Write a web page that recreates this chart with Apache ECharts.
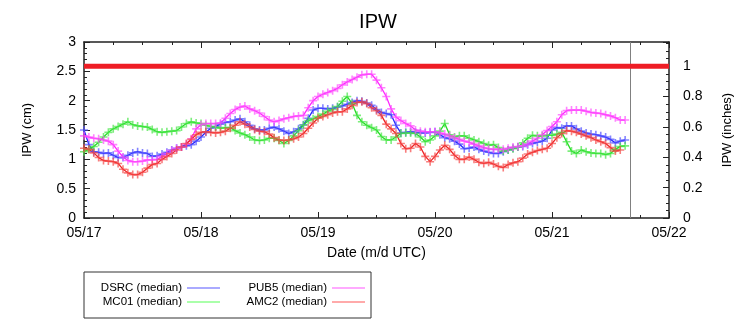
<!DOCTYPE html>
<html>
<head>
<meta charset="utf-8">
<script src="https://cdn.jsdelivr.net/npm/echarts@6/dist/echarts.min.js"></script>
<style>html,body{margin:0;padding:0;background:#fff}#c{width:756px;height:324px}</style>
</head>
<body>
<div id="c"></div>
<script>
// Hours since 05/17 00:00 UTC (one value per hour)
const dayLabels = ['05/17', '05/18', '05/19', '05/20', '05/21', '05/22'];
const nowHour = 112; // gray vertical marker (05/21 16:00)
const thresholdInches = 1;

const dsrc = [
  1.50,1.25,1.13,1.12,1.10,1.11,1.07,1.03,1.03,1.07,1.11,1.13,
  1.11,1.10,1.05,1.06,1.09,1.12,1.16,1.19,1.21,1.23,1.25,1.31,
  1.38,1.46,1.53,1.56,1.60,1.63,1.64,1.67,1.69,1.64,1.58,1.52,
  1.50,1.50,1.53,1.55,1.52,1.48,1.44,1.47,1.52,1.59,1.70,1.84,
  1.87,1.87,1.86,1.87,1.89,1.91,1.94,1.97,2.00,1.99,1.96,1.92,
  1.85,1.80,1.78,1.76,1.58,1.45,1.46,1.47,1.46,1.45,1.45,1.46,
  1.47,1.42,1.37,1.35,1.31,1.26,1.18,1.19,1.21,1.17,1.14,1.12,
  1.10,1.10,1.13,1.16,1.19,1.21,1.22,1.25,1.27,1.29,1.31,1.36,
  1.50,1.54,1.53,1.57,1.57,1.52,1.48,1.45,1.43,1.42,1.40,1.38,
  1.34,1.28,1.31,1.33
];
const mc01 = [
  1.13,1.17,1.22,1.29,1.38,1.46,1.52,1.56,1.60,1.64,1.59,1.57,
  1.56,1.55,1.51,1.47,1.46,1.47,1.48,1.49,1.55,1.61,1.64,1.62,
  1.61,1.58,1.56,1.55,1.53,1.54,1.54,1.49,1.45,1.42,1.38,1.33,
  1.32,1.33,1.36,1.36,1.32,1.27,1.32,1.40,1.49,1.58,1.66,1.69,
  1.73,1.77,1.82,1.85,1.90,1.99,2.07,1.95,1.75,1.64,1.58,1.54,
  1.50,1.39,1.33,1.33,1.38,1.44,1.45,1.45,1.44,1.38,1.30,1.33,
  1.40,1.48,1.61,1.42,1.38,1.40,1.40,1.36,1.33,1.30,1.27,1.24,
  1.25,1.20,1.14,1.16,1.18,1.21,1.28,1.36,1.41,1.40,1.40,1.41,
  1.41,1.43,1.46,1.30,1.14,1.10,1.16,1.13,1.11,1.10,1.10,1.08,
  1.10,1.17,1.22,1.23
];
const pub5 = [
  1.40,1.38,1.36,1.35,1.33,1.31,1.25,1.14,1.04,0.98,0.96,0.96,
  0.97,0.99,0.99,1.00,1.05,1.10,1.15,1.19,1.21,1.26,1.35,1.52,
  1.59,1.61,1.61,1.61,1.62,1.70,1.78,1.85,1.89,1.91,1.86,1.83,
  1.79,1.73,1.67,1.64,1.66,1.69,1.71,1.73,1.74,1.75,1.88,2.00,
  2.07,2.11,2.14,2.17,2.21,2.27,2.32,2.36,2.40,2.44,2.45,2.45,
  2.35,2.22,2.07,1.86,1.72,1.66,1.61,1.57,1.50,1.48,1.47,1.47,
  1.47,1.45,1.43,1.40,1.37,1.34,1.31,1.29,1.26,1.23,1.20,1.18,
  1.17,1.17,1.17,1.19,1.21,1.22,1.23,1.26,1.31,1.36,1.42,1.49,
  1.56,1.64,1.76,1.83,1.84,1.84,1.84,1.82,1.80,1.79,1.78,1.76,
  1.74,1.71,1.67,1.67
];
const amc2 = [
  1.19,1.17,1.11,1.03,0.98,0.97,0.96,0.93,0.83,0.77,0.74,0.74,
  0.78,0.85,0.91,0.93,1.00,1.05,1.10,1.16,1.21,1.27,1.34,1.42,
  1.46,1.47,1.46,1.45,1.46,1.48,1.53,1.58,1.64,1.60,1.55,1.51,
  1.48,1.47,1.43,1.37,1.33,1.32,1.33,1.35,1.38,1.44,1.53,1.62,
  1.70,1.73,1.76,1.79,1.81,1.81,1.86,1.92,1.97,1.98,1.95,1.88,
  1.83,1.75,1.60,1.52,1.44,1.27,1.18,1.19,1.27,1.21,1.05,0.96,
  1.05,1.16,1.24,1.17,1.07,1.00,1.00,1.04,1.00,0.95,0.93,0.95,
  0.92,0.88,0.86,0.91,0.94,0.96,1.02,1.09,1.12,1.15,1.17,1.19,
  1.27,1.37,1.44,1.49,1.48,1.46,1.43,1.40,1.37,1.33,1.30,1.27,
  1.20,1.14,1.16
];

const FONT = 'Liberation Sans, Arial, Helvetica, sans-serif';
const CROSS = 'path://M4,0H6V4H10V6H6V10H4V6H0V4H4Z';
const toPairs = arr => arr.map((v, i) => [i, v]);

function lineSeries(name, data, lineColor, markColor, extra) {
  return Object.assign({
    name: name,
    type: 'line',
    xAxisIndex: 0,
    yAxisIndex: 0,
    data: toPairs(data),
    symbol: CROSS,
    symbolSize: 8,
    showAllSymbol: true,
    itemStyle: { color: markColor },
    lineStyle: { color: lineColor, width: 1.3 },
    emphasis: { disabled: true },
    silent: true,
    animation: false
  }, extra || {});
}

const legendText = { fontFamily: FONT, fontSize: 11.5, color: '#000', lineHeight: 14 };
function legendEntry(name, color, right, top) {
  return {
    data: [name], icon: 'rect', right: right, top: top, align: 'right', padding: 0,
    itemWidth: 33, itemHeight: 2, itemGap: 0, selectedMode: false,
    itemStyle: { color: color, borderWidth: 0, opacity: 1 },
    lineStyle: { color: color, opacity: 1 },
    textStyle: legendText
  };
}

const axisLineStyle = { color: '#222', width: 1.5 };
const tickStyle = { color: '#222', width: 1 };

const chart = echarts.init(document.getElementById('c'), null, { renderer: 'canvas' });
chart.setOption({
  backgroundColor: '#fff',
  animation: false,
  title: {
    text: 'IPW', left: 'center', top: 7,
    textStyle: { fontFamily: FONT, fontSize: 20, fontWeight: 'normal', color: '#000' }
  },
  grid: { left: 84, right: 87, top: 42, bottom: 106 },
  legend: [
    legendEntry('DSRC (median)', '#aaaaff', 536, 281),
    legendEntry('MC01 (median)', '#aaffaa', 536, 295),
    legendEntry('PUB5 (median)', '#ffaaff', 391, 281),
    legendEntry('AMC2 (median)', '#ffaaaa', 391, 295)
  ],
  graphic: [
    { type: 'rect', shape: { x: 84, y: 272, width: 287, height: 46 },
      style: { fill: 'none', stroke: '#333', lineWidth: 1 }, silent: true }
  ],
  xAxis: [
    {
      type: 'value', min: 0, max: 120, interval: 24, position: 'bottom',
      name: 'Date (m/d UTC)', nameLocation: 'middle', nameGap: 28,
      nameTextStyle: { fontFamily: FONT, fontSize: 14, color: '#000' },
      axisLine: { show: true, onZero: false, lineStyle: axisLineStyle },
      axisTick: { show: true, inside: true, length: 6, lineStyle: tickStyle },
      minorTick: { show: true, splitNumber: 4, length: 3, lineStyle: tickStyle },
      splitLine: { show: false },
      axisLabel: {
        fontFamily: FONT, fontSize: 14, color: '#000', margin: 8,
        formatter: v => dayLabels[Math.round(v / 24)] || ''
      }
    },
    {
      type: 'value', min: 0, max: 120, interval: 24, position: 'top',
      axisLine: { show: true, onZero: false, lineStyle: axisLineStyle },
      axisTick: { show: true, inside: true, length: 6, lineStyle: tickStyle },
      minorTick: { show: true, splitNumber: 4, length: 3, lineStyle: tickStyle },
      splitLine: { show: false },
      axisLabel: { show: false }
    }
  ],
  yAxis: [
    {
      type: 'value', min: 0, max: 3, interval: 0.5, position: 'left',
      name: 'IPW (cm)', nameLocation: 'middle', nameGap: 50, nameRotate: 90,
      nameTextStyle: { fontFamily: FONT, fontSize: 13, color: '#000' },
      axisLine: { show: true, onZero: false, lineStyle: axisLineStyle },
      axisTick: { show: true, inside: true, length: 6, lineStyle: tickStyle },
      minorTick: { show: true, splitNumber: 5, length: 3, lineStyle: tickStyle },
      splitLine: { show: false },
      axisLabel: { fontFamily: FONT, fontSize: 14, color: '#000', margin: 8 }
    },
    {
      type: 'value', min: 0, max: 1.16, interval: 0.2, position: 'right',
      name: 'IPW (inches)', nameLocation: 'middle', nameGap: 52, nameRotate: 90,
      nameTextStyle: { fontFamily: FONT, fontSize: 13, color: '#000' },
      axisLine: { show: true, onZero: false, lineStyle: axisLineStyle },
      axisTick: { show: true, inside: true, length: 6, lineStyle: tickStyle },
      minorTick: { show: true, splitNumber: 4, length: 3, lineStyle: tickStyle },
      splitLine: { show: false },
      axisLabel: { fontFamily: FONT, fontSize: 14, color: '#000', margin: 14, showMaxLabel: false }
    }
  ],
  series: [
    lineSeries('DSRC (median)', dsrc, '#2424ff', 'rgba(80,80,255,0.7)', {
      markLine: {
        silent: true, symbol: ['none', 'none'], label: { show: false },
        lineStyle: { color: '#808080', width: 1, type: 'solid' },
        data: [{ xAxis: nowHour }]
      }
    }),
    lineSeries('MC01 (median)', mc01, '#22dd22', 'rgba(70,230,70,0.7)'),
    lineSeries('PUB5 (median)', pub5, '#ff22ff', 'rgba(255,80,255,0.7)'),
    lineSeries('AMC2 (median)', amc2, '#ee2222', 'rgba(245,70,70,0.7)'),
    {
      name: 'threshold', type: 'line', xAxisIndex: 0, yAxisIndex: 1,
      data: [[0, thresholdInches], [120, thresholdInches]],
      symbol: 'none', lineStyle: { color: '#ee1d25', width: 5 },
      silent: true, z: 5, animation: false
    }
  ]
});
</script>
</body>
</html>
